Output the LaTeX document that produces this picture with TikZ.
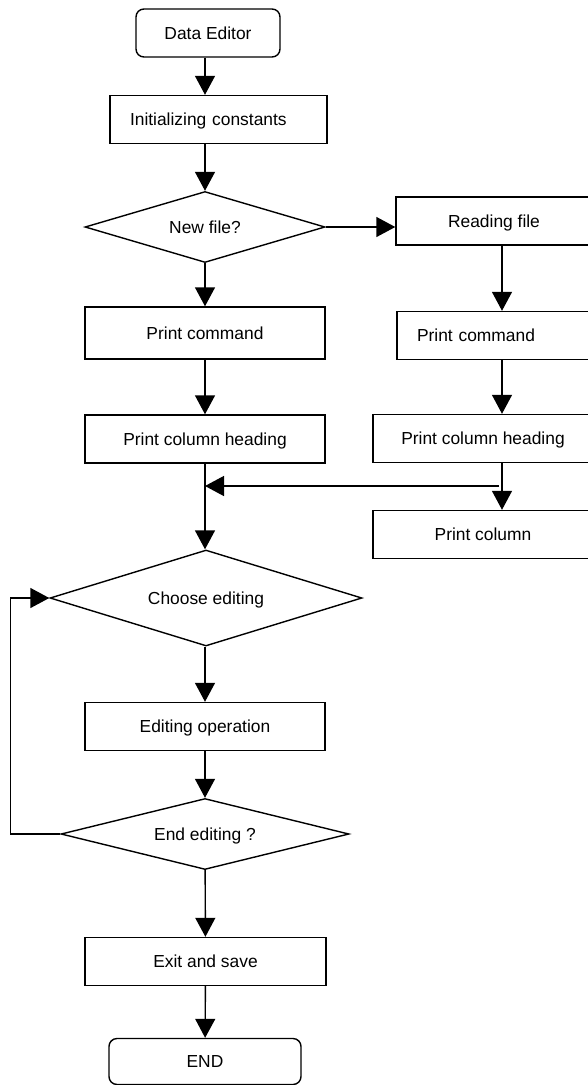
\documentclass[tikz,border=0pt]{standalone}
\usepackage{fontspec}
\setmainfont{Liberation Sans}
\usetikzlibrary{shapes.geometric,arrows.meta}

\begin{document}
\begin{tikzpicture}[x=1pt,y=-1pt,
  box/.style={draw,line width=1.4pt,minimum height=48pt,inner sep=0pt,
              font=\fontsize{17.4}{21}\selectfont,text height=12.5pt,text depth=0pt},
  term/.style={box,rounded corners=8pt},
  lbox/.style={box,align=left,inner xsep=20pt},
  cond/.style={diamond,draw,line width=1.4pt,inner sep=0pt,
               font=\fontsize{17.4}{21}\selectfont,text height=12.5pt,text depth=0pt},
  arr/.style={-{Triangle[length=19pt,width=20pt]},line width=1.4pt}]
  \useasboundingbox (0,0) rectangle (587,1085);

  % main column
  \node[term,minimum width=144pt] (data) at (208,33) {Data Editor};
  \node[lbox,text width=177pt] (init) at (218.5,119.5) {Initializing constants};
  \node[cond,minimum width=240pt,minimum height=71pt,aspect=3.4] (newf) at (205,227) {New file?};
  \node[box,minimum width=240pt,minimum height=52pt] (cmd) at (205,333) {Print command};
  \node[box,minimum width=240pt] (head) at (205,439) {Print column heading};
  \node[cond,minimum width=312pt,minimum height=96pt,aspect=3.25] (choose) at (206,598) {Choose editing};
  \node[box,minimum width=240pt] (edit) at (205,726.5) {Editing operation};
  \node[cond,minimum width=288pt,minimum height=71pt,aspect=4.05] (endq) at (205,834) {End editing ?};
  \node[box,minimum width=241pt] (exit) at (205.5,961.5) {Exit and save};
  \node[term,minimum width=192pt,minimum height=46pt] (fin) at (205,1061.5) {END};

  % reading branch
  \node[box,minimum width=196pt] (read) at (494,221) {Reading file};
  \node[lbox,text width=156pt] (cmdr) at (495,335.5) {Print command};
  \node[box,minimum width=220pt] (headr) at (483,438.5) {Print column heading};
  \node[box,minimum width=220pt] (col) at (483,534.5) {Print column};
  \coordinate (rx) at (502,0);
  \coordinate (split) at (499,486);
  \coordinate (join) at (205,486);

  \draw[arr] (data.south -| newf) -- (init.north -| newf);
  \draw[arr] (init.south -| newf) -- (newf);
  \draw[arr] (newf) -- (cmd); \draw[arr] (cmd) -- (head);
  \draw[arr] (head.south) -- (head.south |- choose.north);
  \draw[arr] (choose.south -| edit) -- (edit);
  \draw[arr] (edit) -- (endq); \draw[arr] (endq) -- (exit);
  \draw[arr] (exit) -- (fin);
  \draw[arr] (newf.east) -- (newf.east -| read.west);
  \draw[arr] (read.south -| rx) -- (cmdr.north -| rx);
  \draw[arr] (cmdr.south -| rx) -- (headr.north -| rx);
  \draw[arr] (headr.south -| rx) -- (col.north -| rx);
  \draw[arr] (split) -- (join);
  \draw[arr] (endq.west) -- ++(-50,0) |- (choose.west);
\end{tikzpicture}
\end{document}
